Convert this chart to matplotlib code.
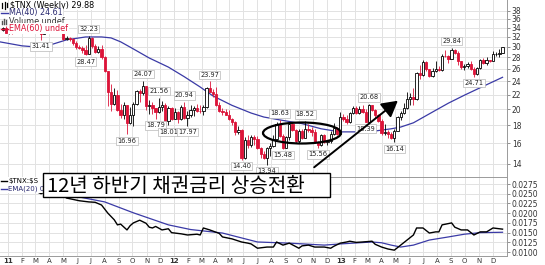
"""Weekly $TNX candles with MA(40), plus $TNX:$SPX ratio panel."""

import matplotlib
matplotlib.use("Agg")
import matplotlib.pyplot as plt
import matplotlib.ticker as mticker
import numpy as np
import pandas as pd
from matplotlib.lines import Line2D
from matplotlib.patches import Ellipse, FancyArrowPatch, Rectangle

# ---- data (yield x10), one row per week starting Monday 2010-12-20 ----
first_week = "2010-12-20"

# (open, high, low, close)
ohlc_2011 = [
    (33.4, 34.2, 33.2, 33.9), (33.9, 34.3, 32.8, 32.9), (32.9, 34.3, 32.7, 33.2),
    (33.2, 34.0, 32.6, 32.9), (32.9, 34.5, 32.8, 34.0), (34.0, 34.9, 32.8, 33.2),
    (33.2, 36.5, 33.1, 36.4), (36.4, 37.7, 36.1, 36.3), (36.3, 36.9, 35.4, 35.8),
    (35.8, 36.0, 34.1, 34.2), (34.2, 35.9, 33.9, 34.9), (34.9, 35.8, 33.9, 34.0),
    (34.0, 34.2, 31.41, 32.7), (32.7, 34.5, 32.6, 34.4), (34.4, 35.0, 34.3, 34.5),
    (34.5, 36.0, 34.3, 35.7), (35.7, 35.9, 34.0, 34.1), (34.1, 34.3, 33.2, 33.9),
    (33.9, 34.0, 32.8, 32.9), (32.9, 33.3, 31.3, 31.5), (31.5, 32.3, 31.3, 31.7),
    (31.7, 31.9, 31.2, 31.5), (31.5, 31.7, 30.3, 30.7), (30.7, 31.1, 29.5, 29.9),
    (29.9, 30.4, 29.5, 29.7), (29.7, 30.2, 28.8, 29.4), (29.4, 30.3, 28.47, 28.7),
    (28.7, 32.23, 28.6, 31.8), (31.8, 31.9, 29.8, 30.2), (30.2, 30.6, 28.8, 29.1),
    (29.1, 30.1, 28.9, 29.6), (29.6, 30.3, 27.8, 28.0), (28.0, 28.3, 25.4, 25.6),
    (25.6, 25.7, 20.4, 22.4), (22.4, 23.6, 19.7, 20.7), (20.7, 22.9, 20.6, 21.9),
    (21.9, 22.6, 19.8, 19.9), (19.9, 20.7, 18.9, 19.2), (19.2, 21.0, 18.8, 20.5),
    (20.5, 20.6, 16.96, 18.3), (18.3, 20.3, 18.1, 19.2), (19.2, 21.0, 17.9, 20.7),
    (20.7, 22.6, 20.5, 22.5), (22.5, 22.8, 21.0, 22.2), (22.2, 24.07, 21.9, 23.2),
    (23.2, 23.3, 19.9, 20.4), (20.4, 21.2, 19.4, 20.5), (20.5, 20.9, 19.4, 20.1),
    (20.1, 20.2, 18.79, 19.6), (19.6, 21.56, 19.5, 20.3), (20.3, 21.1, 19.8, 20.6),
    (20.6, 20.8, 18.4, 18.5), (18.5, 20.4, 18.01, 20.2), (20.2, 20.3, 18.6, 18.8),
]
ohlc_2012 = [
    (18.8, 20.1, 18.7, 19.6), (19.6, 19.8, 18.3, 18.7), (18.7, 20.5, 18.6, 20.3),
    (20.3, 20.94, 18.8, 18.9), (18.9, 19.7, 17.97, 19.3), (19.3, 20.6, 19.0, 19.9),
    (19.9, 20.4, 19.1, 20.1), (20.1, 20.7, 19.6, 19.8), (19.8, 20.5, 19.5, 19.7),
    (19.7, 20.5, 19.3, 20.3), (20.3, 23.1, 20.2, 23.0), (23.0, 23.97, 22.3, 22.4),
    (22.4, 22.8, 21.6, 22.1), (22.1, 23.1, 20.4, 20.5), (20.5, 20.9, 19.6, 19.8),
    (19.8, 20.1, 19.3, 19.6), (19.6, 20.0, 19.2, 19.3), (19.3, 19.9, 18.6, 18.8),
    (18.8, 18.9, 18.0, 18.4), (18.4, 18.5, 16.9, 17.2), (17.2, 17.9, 17.0, 17.5),
    (17.5, 17.6, 14.40, 14.6), (14.6, 16.7, 14.5, 16.4), (16.4, 16.9, 15.5, 15.8),
    (15.8, 16.9, 15.6, 16.7), (16.7, 16.9, 15.8, 16.5), (16.5, 16.8, 15.4, 15.5),
    (15.5, 15.6, 14.6, 14.9), (14.9, 15.2, 14.5, 14.6), (14.6, 15.6, 13.94, 15.5),
    (15.5, 16.0, 14.7, 15.7), (15.7, 16.9, 15.6, 16.5), (16.5, 18.4, 16.4, 18.1),
    (18.1, 18.63, 16.7, 16.8), (16.8, 17.0, 15.48, 15.5), (15.5, 16.8, 15.5, 16.7),
    (16.7, 18.4, 16.4, 18.2), (18.2, 18.4, 17.3, 17.5), (17.5, 17.6, 16.0, 16.3),
    (16.3, 17.6, 16.0, 17.4), (17.4, 17.6, 16.5, 16.6), (16.6, 18.52, 16.6, 17.6),
    (17.6, 18.2, 17.2, 17.5), (17.5, 17.8, 16.8, 17.2), (17.2, 17.6, 16.0, 16.1),
    (16.1, 16.3, 15.56, 15.8), (15.8, 17.0, 15.7, 16.9), (16.9, 17.0, 16.0, 16.2),
    (16.2, 16.4, 15.8, 16.3), (16.3, 17.3, 16.0, 17.0), (17.0, 18.3, 16.9, 17.7),
    (17.7, 17.8, 16.9, 17.0), (17.0, 19.6, 17.0, 19.0),
]
ohlc_2013 = [
    (19.0, 19.4, 18.5, 18.7), (18.7, 19.2, 18.1, 18.4), (18.4, 19.6, 18.3, 19.5),
    (19.5, 20.4, 19.4, 20.1), (20.1, 20.4, 19.4, 19.5), (19.5, 20.4, 19.4, 20.0),
    (20.0, 20.5, 19.5, 19.6), (19.6, 20.0, 18.39, 18.4), (18.4, 20.68, 18.4, 20.5),
    (20.5, 20.6, 19.8, 19.9), (19.9, 20.0, 18.9, 19.3), (19.3, 19.4, 18.4, 18.5),
    (18.5, 18.8, 16.9, 17.1), (17.1, 18.2, 16.9, 17.2), (17.2, 17.5, 16.6, 17.0),
    (17.0, 17.2, 16.5, 16.6), (16.6, 17.6, 16.14, 17.4), (17.4, 19.1, 17.3, 19.0),
    (19.0, 19.8, 18.6, 19.5), (19.5, 20.8, 19.4, 20.1), (20.1, 22.3, 20.0, 21.3),
    (21.3, 22.2, 20.5, 21.7), (21.7, 22.9, 20.6, 21.3), (21.3, 25.4, 21.2, 25.3),
    (25.3, 26.6, 24.3, 24.9), (24.9, 27.5, 24.8, 27.2), (27.2, 27.4, 25.7, 25.9),
    (25.9, 26.0, 24.7, 24.8), (24.8, 26.1, 24.7, 25.6), (25.6, 27.4, 25.5, 26.0),
    (26.0, 26.5, 25.7, 25.8), (25.8, 28.6, 25.7, 28.3), (28.3, 29.3, 28.1, 28.2),
    (28.2, 28.4, 27.0, 27.8), (27.8, 29.84, 27.7, 29.4), (29.4, 29.6, 28.6, 28.9),
    (28.9, 29.2, 26.7, 27.3), (27.3, 27.4, 26.0, 26.3), (26.3, 26.8, 25.8, 26.5),
    (26.5, 27.2, 26.1, 26.9), (26.9, 27.3, 25.8, 25.9), (25.9, 26.4, 24.71, 25.1),
    (25.1, 26.4, 24.9, 26.2), (26.2, 27.8, 25.9, 27.5), (27.5, 27.9, 26.9, 27.0),
    (27.0, 28.0, 26.6, 27.5), (27.5, 27.6, 27.2, 27.4), (27.4, 29.2, 27.3, 28.6),
    (28.6, 29.0, 28.3, 28.7), (28.7, 29.5, 28.0, 28.9), (28.9, 30.0, 28.9, 29.88),
]

# weeks whose high / low carry a price label
label_high_weeks = [27, 44, 49, 57, 65, 87, 95, 115, 141]
label_low_weeks = [12, 26, 39, 48, 52, 58, 75, 83, 88, 99, 114, 123, 148]

# MA(40) of the close (week number, value)
ma_weeks = [-1, 6, 10, 15, 20, 26, 31, 34, 37, 41, 46, 52, 57, 62, 66, 72, 78,
            82, 87, 94, 100, 106, 112, 117, 122, 125, 129, 134, 140, 145, 150, 157]
ma_values = [31.0, 30.2, 30.0, 30.4, 31.4, 32.0, 32.0, 31.8, 31.0, 29.6, 27.9,
             26.3, 24.7, 23.1, 21.8, 20.5, 19.5, 19.0, 18.65, 18.2, 17.6, 17.25,
             17.25, 17.35, 17.6, 17.8, 18.3, 19.4, 20.8, 21.9, 23.0, 24.61]

# $TNX:$SPX ratio
ratio_weeks = [-1, 2, 6, 9, 12, 15, 17, 19, 20, 24, 27, 29, 31, 33, 35, 36, 37, 39,
               40, 41, 43, 45, 46, 47, 48, 50, 52, 53, 54, 56, 58, 61, 62, 63, 65,
               68, 69, 72, 75, 77, 78, 80, 83, 85, 86, 88, 90, 93, 94, 96, 98, 101,
               103, 104, 106, 108, 109, 111, 113, 116, 117, 119, 121, 123, 125, 127,
               129, 130, 132, 134, 136, 137, 138, 141, 142, 144, 146, 148, 150, 152,
               154, 157]
ratio_values = [0.0268, 0.0262, 0.0274, 0.0262, 0.0250, 0.0262, 0.0258, 0.0245,
                0.0239, 0.0232, 0.0229, 0.0228, 0.0221, 0.0200, 0.0183, 0.0170,
                0.0172, 0.0157, 0.0168, 0.0175, 0.0182, 0.0174, 0.0164, 0.0162,
                0.0166, 0.0157, 0.0160, 0.0150, 0.0149, 0.0147, 0.0144, 0.0146,
                0.0144, 0.0162, 0.0157, 0.0148, 0.0139, 0.0134, 0.0126, 0.0123,
                0.0121, 0.0110, 0.0113, 0.0113, 0.0126, 0.0118, 0.0123, 0.0110,
                0.0116, 0.0118, 0.0113, 0.0113, 0.0110, 0.0115, 0.0123, 0.0126,
                0.0128, 0.0125, 0.0126, 0.0128, 0.0120, 0.0113, 0.0108, 0.0105,
                0.0118, 0.0131, 0.0144, 0.0162, 0.0162, 0.0149, 0.0152, 0.0152,
                0.0170, 0.0175, 0.0164, 0.0157, 0.0157, 0.0144, 0.0152, 0.0152,
                0.0162, 0.0159]

# EMA(20) of the ratio
ema_weeks = [-1, 9, 18, 25, 32, 41, 52, 59, 69, 80, 90, 101, 106, 116, 119, 122,
             125, 129, 134, 140, 145, 150, 157]
ema_values = [0.0255, 0.0258, 0.0252, 0.0240, 0.0229, 0.0201, 0.0170, 0.0158,
              0.0149, 0.0126, 0.0123, 0.0118, 0.0121, 0.0126, 0.0124, 0.0118,
              0.0113, 0.0118, 0.0131, 0.0139, 0.0146, 0.0150, 0.0151]

price_ticks = [14, 16, 18, 20, 22, 24, 26, 28, 30, 32, 34, 36, 38]
ratio_ticks = [0.0100, 0.0125, 0.0150, 0.0175, 0.0200, 0.0225, 0.0250, 0.0275]

RED = "#dc1439"
BLUE = "#3a3aa6"
GRID = "#e2e2e2"
NARROW = ["Liberation Sans Narrow", "DejaVu Sans"]

# ---- figure ----
W, H = 545, 265


def fx(px):
    return px / W


def fy(py):
    return 1 - py / H


df = pd.DataFrame(ohlc_2011 + ohlc_2012 + ohlc_2013, columns=["open", "high", "low", "close"])
weeks = np.arange(len(df))

fig = plt.figure(figsize=(W / 100, H / 100), dpi=100)
ax = fig.add_axes([0, fy(177), fx(507), 177 / H])
ax2 = fig.add_axes([0, fy(256), fx(507), 79 / H], sharex=ax)

months = pd.date_range("2011-01-01", "2013-12-01", freq="MS")
month_pos = (months - pd.Timestamp(first_week)).days / 7
month_lbl = [f"{m:%y}" if m.month == 1 else f"{m:%b}"[0] for m in months]

for a in (ax, ax2):
    a.set_xlim(-0.9, 158.4)
    a.grid(True, color=GRID, lw=0.7, zorder=0)
    a.set_axisbelow(True)
    for p, m in zip(month_pos, months):
        if m.month == 1:
            a.axvline(p, color="#b4b4b4", lw=0.7, zorder=0.5)
    a.yaxis.tick_right()
    a.tick_params(axis="y", length=2.5, width=0.5, pad=1, labelsize=5.5,
                  color="#666666", labelcolor="#333333")
    a.spines["left"].set_visible(False)
    for s in ("right", "bottom", "top"):
        a.spines[s].set_color("#9a9a9a")
        a.spines[s].set_linewidth(0.7)
ax.spines["top"].set_visible(False)

# candles
up = (df["close"] >= df["open"]).to_numpy()
edge = np.where(up, "black", RED)
ax.vlines(weeks, df["low"], df["high"], colors=edge, lw=0.6, zorder=3)
ax.bar(weeks, (df["close"] - df["open"]).abs(), bottom=np.minimum(df["open"], df["close"]),
       width=0.72, color=np.where(up, "white", RED), edgecolor=edge, linewidth=0.6, zorder=4)
ax.plot(ma_weeks, ma_values, color=BLUE, lw=0.9, zorder=2)

ax.set_yscale("log")
ax.set_ylim(12.86, 40.7)
ax.set_yticks(price_ticks)
ax.set_yticklabels([str(t) for t in price_ticks], family=NARROW)
ax.yaxis.set_minor_locator(mticker.NullLocator())
ax.tick_params(axis="x", bottom=False, labelbottom=False)

for w in label_high_weeks:
    v = df["high"][w]
    ax.annotate(f"{v:.2f}", (w, v), xytext=(0, 2.6), textcoords="offset points",
                ha="center", va="bottom", fontsize=4.8, family=NARROW, color="#222222",
                bbox=dict(boxstyle="square,pad=0.18", fc="white", ec="#b8b8b8", lw=0.5), zorder=6)
for w in label_low_weeks:
    v = df["low"][w]
    ax.annotate(f"{v:.2f}", (w, v), xytext=(0, -2.6), textcoords="offset points",
                ha="center", va="top", fontsize=4.8, family=NARROW, color="#222222",
                bbox=dict(boxstyle="square,pad=0.18", fc="white", ec="#b8b8b8", lw=0.5), zorder=6)

# ratio panel
ax2.plot(ratio_weeks, ratio_values, color="black", lw=1.0, zorder=3)
ax2.plot(ema_weeks, ema_values, color=BLUE, lw=0.9, zorder=2)
ax2.set_ylim(0.0090, 0.0293)
ax2.set_yticks(ratio_ticks)
ax2.set_yticklabels([f"{t:.4f}" for t in ratio_ticks], family=NARROW)
ax2.set_xticks(month_pos)
ax2.set_xticklabels(month_lbl)
ax2.tick_params(axis="x", length=0, pad=1.5, labelsize=5, labelcolor="#333333")
for lab, m in zip(ax2.get_xticklabels(), months):
    if m.month == 1:
        lab.set_fontweight("bold")

# legends (top-left of each panel)
leg = dict(fontsize=5.8, va="center", ha="left", zorder=20,
           bbox=dict(boxstyle="square,pad=0.1", fc="white", ec="none"))
fig.text(fx(10), fy(5), r"\$TNX (Weekly) 29.88", color="black", **leg)
fig.text(fx(9), fy(13), "MA(40) 24.61", color="#2a2a70", **leg)
fig.text(fx(9), fy(21), "Volume undef", color="#333333", **leg)
fig.text(fx(9), fy(28.5), "EMA(60) undef", color=RED, **leg)
fig.add_artist(Line2D([fx(1), fx(8)], [fy(13), fy(13)], color=BLUE, lw=1.0, zorder=21))
fig.add_artist(Line2D([fx(1), fx(8)], [fy(28.5), fy(28.5)], color=RED, lw=1.0, zorder=21))
for i, hgt in enumerate([3, 5, 4]):
    fig.add_artist(Line2D([fx(2 + 2 * i)] * 2, [fy(24), fy(24 - hgt)], color="#555555", lw=1.0, zorder=21))
for i, (lo, hi) in enumerate([(7, 3), (8, 2), (6, 3)]):
    fig.add_artist(Line2D([fx(2 + 2.5 * i)] * 2, [fy(lo + 1), fy(hi)], color="black", lw=0.9, zorder=21))

# the lower legend is cut off by the commentary box in the original
fig.add_artist(Rectangle((0, fy(193)), fx(43), 16 / H, transform=fig.transFigure,
                         facecolor="white", edgecolor="none", zorder=19))
small = dict(fontsize=5.0, va="center", ha="left", zorder=20)
fig.text(fx(8), fy(180.5), r"\$TNX:\$S", color="black", **small)
fig.text(fx(8), fy(188.5), "EMA(20) 0.", color="#2a2a70", **small)
fig.add_artist(Line2D([fx(1), fx(7)], [fy(180.5), fy(180.5)], color="black", lw=1.0, zorder=21))
fig.add_artist(Line2D([fx(1), fx(7)], [fy(188.5), fy(188.5)], color=BLUE, lw=1.0, zorder=21))

# commentary overlay
fig.add_artist(Rectangle((fx(43), fy(197)), fx(330) - fx(43), 24 / H, transform=fig.transFigure,
                         facecolor="white", edgecolor="black", lw=1.0, zorder=30))
fig.text(fx(47), fy(186), "12년 하반기 채권금리 상승전환", fontsize=14.5,
         family=["Noto Sans CJK KR", "DejaVu Sans"], va="center", ha="left", zorder=31)
fig.add_artist(Ellipse((fx(302), fy(133)), 78 / W, 21 / H, transform=fig.transFigure,
                       fill=False, edgecolor="black", lw=1.6, zorder=25))
fig.add_artist(FancyArrowPatch((fx(312), fy(169)), (fx(400), fy(99)), transform=fig.transFigure,
                               arrowstyle="-|>,head_length=0.8,head_width=0.45", mutation_scale=12,
                               color="black", lw=1.4, zorder=25))

fig.savefig("out.png", dpi=100)
plt.close(fig)
